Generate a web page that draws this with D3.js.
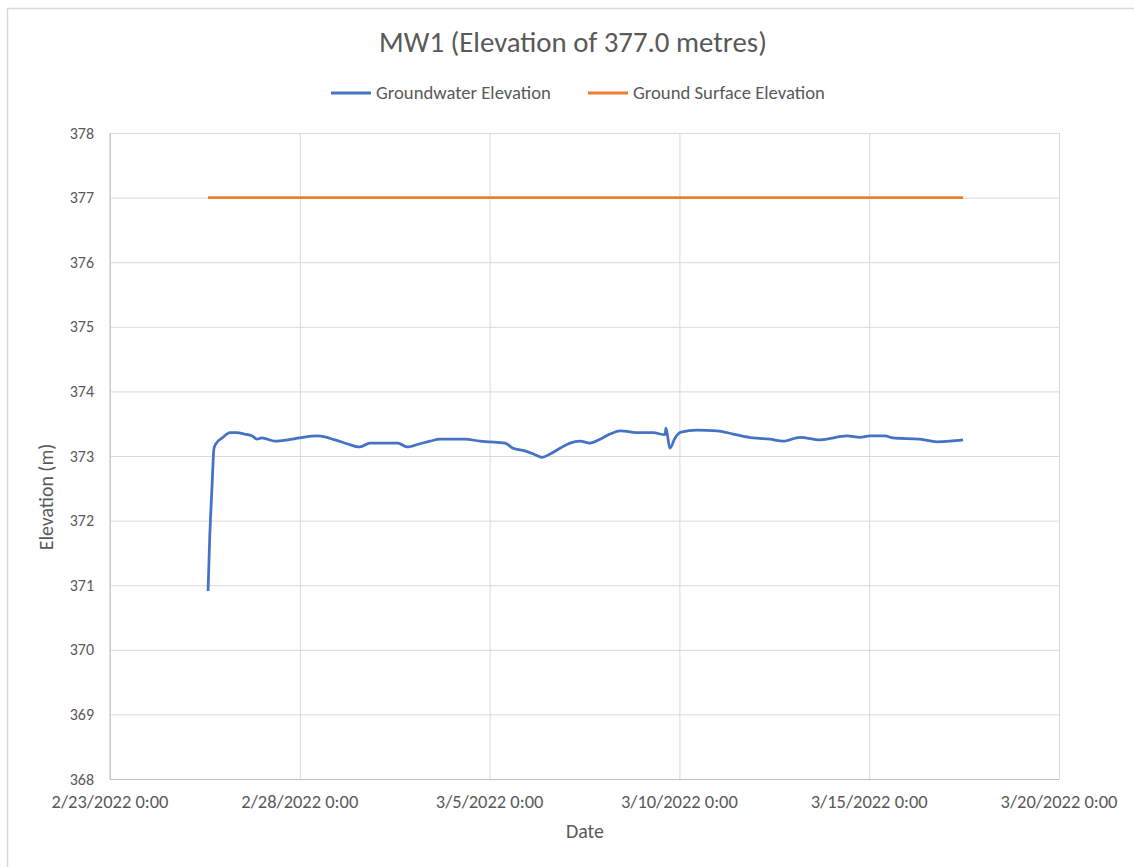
<!DOCTYPE html>
<html><head><meta charset="utf-8">
<script src="https://cdn.jsdelivr.net/npm/d3@7"></script>
<style>body{margin:0;background:#fff;} text{font-family:"Carlito","Liberation Sans Narrow","Liberation Sans",Arial,sans-serif;fill:#595959;}</style>
</head><body>
<svg id="c" width="1134" height="867"></svg>
<script>
const gwDates = ["2022-02-25T14:00","2022-02-25T15:00","2022-02-25T16:30","2022-02-25T17:45","2022-02-25T19:00","2022-02-25T23:00","2022-02-26T04:00","2022-02-26T08:00","2022-02-26T13:00","2022-02-26T18:00","2022-02-26T21:00","2022-02-27T00:00","2022-02-27T08:20","2022-02-27T16:30","2022-02-28T00:00","2022-02-28T11:30","2022-02-28T22:15","2022-03-01T05:50","2022-03-01T14:00","2022-03-01T20:20","2022-03-02T05:50","2022-03-02T14:00","2022-03-02T19:45","2022-03-03T04:00","2022-03-03T10:20","2022-03-03T16:40","2022-03-03T23:00","2022-03-04T08:30","2022-03-04T18:00","2022-03-05T00:15","2022-03-05T09:45","2022-03-05T14:50","2022-03-05T22:25","2022-03-06T04:45","2022-03-06T09:05","2022-03-06T14:10","2022-03-06T20:30","2022-03-07T02:50","2022-03-07T09:10","2022-03-07T15:30","2022-03-07T21:50","2022-03-08T04:10","2022-03-08T10:25","2022-03-08T23:05","2022-03-09T07:20","2022-03-09T14:55","2022-03-09T15:30","2022-03-09T18:00","2022-03-09T21:15","2022-03-10T01:00","2022-03-10T11:10","2022-03-10T23:45","2022-03-11T09:55","2022-03-11T22:30","2022-03-12T09:15","2022-03-12T17:30","2022-03-13T04:15","2022-03-13T16:55","2022-03-14T10:00","2022-03-14T18:10","2022-03-15T00:30","2022-03-15T10:00","2022-03-15T15:00","2022-03-16T08:05","2022-03-16T18:50","2022-03-17T03:05","2022-03-17T11:20"];
const gwValues = [370.91,371.70,372.52,373.12,373.19,373.28,373.36,373.36,373.34,373.31,373.26,373.28,373.23,373.25,373.28,373.31,373.25,373.19,373.14,373.20,373.20,373.20,373.14,373.19,373.23,373.26,373.26,373.26,373.23,373.22,373.20,373.12,373.08,373.02,372.98,373.03,373.12,373.20,373.23,373.20,373.26,373.34,373.39,373.36,373.36,373.33,373.43,373.12,373.28,373.37,373.40,373.39,373.34,373.28,373.26,373.23,373.29,373.25,373.31,373.29,373.31,373.31,373.28,373.26,373.22,373.23,373.25];
const gsDates = ["2022-02-25T14:00","2022-03-17T11:20"];
const gsValues = [377.0,377.0];
const xTicks = ["2022-02-23T00:00","2022-02-28T00:00","2022-03-05T00:00","2022-03-10T00:00","2022-03-15T00:00","2022-03-20T00:00"];
const xTickLabels = ["2/23/2022 0:00","2/28/2022 0:00","3/5/2022 0:00","3/10/2022 0:00","3/15/2022 0:00","3/20/2022 0:00"];
const yTicks = [368,369,370,371,372,373,374,375,376,377,378];
const seriesNames = ["Groundwater Elevation","Ground Surface Elevation"];
const seriesColors = ["#4472c4","#ed7d31"];
const title = "MW1 (Elevation of 377.0 metres)";

const parse = d3.timeParse("%Y-%m-%dT%H:%M");
const svg = d3.select("#c");
const L=110,R=1059,T=133,B=779;
const x = d3.scaleTime().domain([parse(xTicks[0]), parse(xTicks[xTicks.length-1])]).range([L,R]);
const y = d3.scaleLinear().domain([368,378]).range([B,T]);

function fit(sel, w){ sel.each(function(){ const n=this; const fs=parseFloat(n.getAttribute("font-size")); const len=n.getComputedTextLength(); if(len>0) n.setAttribute("font-size", fs*w/len);}); }

// chart border
svg.append("path").attr("d","M7.5,867 V8.5 H1134").attr("fill","none").attr("stroke","#d9d9d9").attr("stroke-width",1.5);

// grid
svg.append("g").attr("transform",`translate(${L},0)`).call(d3.axisLeft(y).tickValues(yTicks).tickSize(-(R-L)).tickFormat(""))
  .call(g=>{g.select(".domain").remove(); g.selectAll("line").attr("stroke","#d9d9d9");});
svg.append("g").attr("transform",`translate(0,${B})`).call(d3.axisBottom(x).tickValues(xTicks.map(parse)).tickSize(-(B-T)).tickFormat(""))
  .call(g=>{g.select(".domain").remove(); g.selectAll("line").attr("stroke","#d9d9d9");});
// axis lines
svg.append("line").attr("x1",L).attr("x2",L).attr("y1",T).attr("y2",B).attr("stroke","#bfbfbf");
svg.append("line").attr("x1",L).attr("x2",R).attr("y1",B+0.5).attr("y2",B+0.5).attr("stroke","#bfbfbf");

// tick labels
svg.append("g").selectAll("text").data(yTicks).join("text")
  .attr("x",94).attr("y",d=>y(d)).attr("dy","0.35em").attr("text-anchor","end").attr("font-size",16).text(d=>d);
const xl = svg.append("g").selectAll("text").data(xTicks).join("text")
  .attr("x",d=>x(parse(d))).attr("y",808).attr("text-anchor","middle").attr("font-size",16).text((d,i)=>xTickLabels[i]);

// lines
const line = d3.line().x(d=>x(d[0])).y(d=>y(d[1])).curve(d3.curveMonotoneX);
svg.append("path").datum(gsDates.map((d,i)=>[parse(d),gsValues[i]])).attr("d",line).attr("fill","none").attr("stroke",seriesColors[1]).attr("stroke-width",2.75);
svg.append("path").datum(gwDates.map((d,i)=>[parse(d),gwValues[i]])).attr("d",line).attr("fill","none").attr("stroke",seriesColors[0]).attr("stroke-width",2.75).attr("stroke-linejoin","round");

// title
const tt = svg.append("text").attr("x",573).attr("y",52).attr("text-anchor","middle").attr("font-size",24).text(title);
// axis titles
const xt = svg.append("text").attr("x",585).attr("y",838).attr("text-anchor","middle").attr("font-size",16).text("Date");
const yt = svg.append("text").attr("transform","translate(53,497) rotate(-90)").attr("text-anchor","middle").attr("font-size",16).text("Elevation (m)");

// legend
const legX=[331,588];
seriesNames.forEach((n,i)=>{
  svg.append("line").attr("x1",legX[i]).attr("x2",legX[i]+40).attr("y1",93).attr("y2",93).attr("stroke",seriesColors[i]).attr("stroke-width",3);
  const t=svg.append("text").attr("class","leg").attr("x",legX[i]+45).attr("y",98.5).attr("font-size",16).text(n);
  fit(t,[175,192][i]);
});
fit(tt,388);
fit(xt,38);
yt.attr("font-size", xt.attr("font-size"));
fit(xl.filter((d,i)=>i==0),117);
const fsx = xl.filter((d,i)=>i==0).attr("font-size"); xl.attr("font-size",fsx);
</script>
</body></html>
